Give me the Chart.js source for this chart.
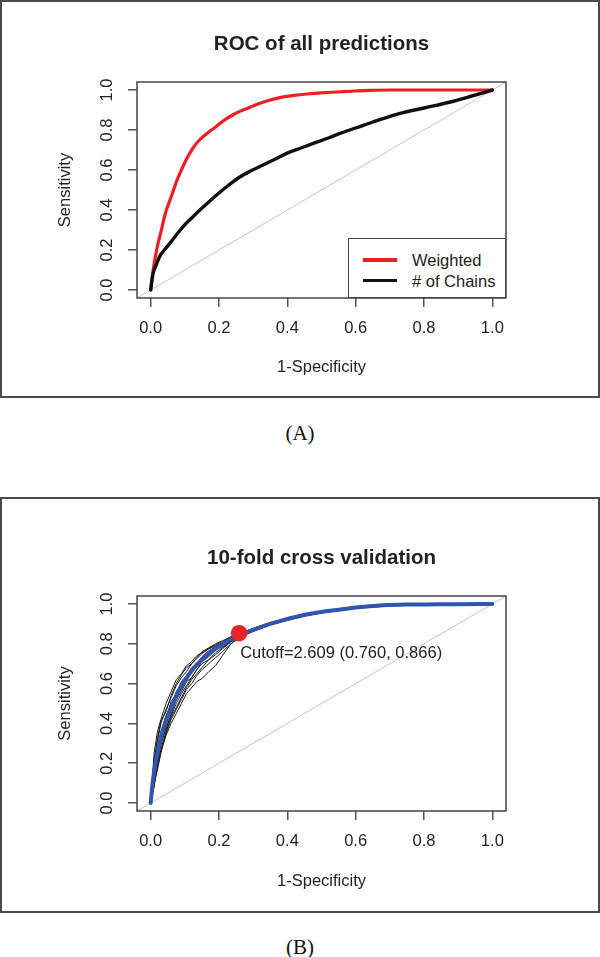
<!DOCTYPE html>
<html>
<head>
<meta charset="utf-8">
<script src="https://cdn.jsdelivr.net/npm/chart.js@4/dist/chart.umd.min.js"></script>
<style>
  body { margin: 0; width: 600px; height: 957px; background: #fff; position: relative; overflow: hidden; }
  .panel { position: absolute; left: 0; width: 600px; box-sizing: border-box; border: 2px solid #4a4a4a; }
  canvas { position: absolute; left: 0; }
  .caption { position: absolute; left: 0; width: 600px; text-align: center; font-family: "Liberation Serif", "Times New Roman", serif; font-size: 21px; line-height: 24px; color: #111; }
  .legend { position: absolute; box-sizing: border-box; background: #fff; border: 1.5px solid #444; font-family: "Liberation Sans", Arial, sans-serif; font-size: 16.5px; color: #222; }
  .legend .row { position: absolute; left: 0; height: 20px; line-height: 20px; }
  .legend .swatch { position: absolute; left: 14px; width: 34px; }
  .legend .text { position: absolute; left: 63px; white-space: nowrap; }
</style>
</head>
<body>
<div class="panel" style="top:0;height:398px"></div>
<canvas id="chartA" width="600" height="398" style="top:0"></canvas>
<div class="caption" style="top:421px">(A)</div>

<div class="panel" style="top:497px;height:416px"></div>
<canvas id="chartB" width="600" height="416" style="top:497px"></canvas>
<div class="caption" style="top:935px">(B)</div>

<script>
// axis ticks
const xTicks = [0, 0.2, 0.4, 0.6, 0.8, 1.0]
const yTicks = [0, 0.2, 0.4, 0.6, 0.8, 1.0]

// (A) ROC of all predictions
const weightedFpr = [0, 0.005, 0.012, 0.02, 0.03, 0.041, 0.05, 0.061, 0.075, 0.09, 0.105, 0.124, 0.14, 0.163, 0.19, 0.212, 0.24, 0.261, 0.29, 0.31, 0.34, 0.378, 0.42, 0.457, 0.5, 0.545, 0.6, 0.64, 0.7, 0.8, 0.9, 1.0]
const weightedTpr = [0, 0.07, 0.15, 0.22, 0.29, 0.37, 0.42, 0.47, 0.54, 0.6, 0.655, 0.71, 0.745, 0.78, 0.815, 0.845, 0.875, 0.893, 0.913, 0.927, 0.945, 0.962, 0.973, 0.98, 0.986, 0.99, 0.995, 0.998, 1, 1, 1, 1]
const chainsFpr = [0, 0.007, 0.015, 0.026, 0.04, 0.056, 0.075, 0.095, 0.12, 0.144, 0.17, 0.193, 0.225, 0.261, 0.295, 0.329, 0.365, 0.398, 0.44, 0.476, 0.52, 0.554, 0.6, 0.65, 0.69, 0.73, 0.8, 0.877, 0.94, 1.0]
const chainsTpr = [0, 0.083, 0.12, 0.167, 0.2, 0.233, 0.275, 0.317, 0.36, 0.4, 0.44, 0.475, 0.52, 0.565, 0.597, 0.625, 0.655, 0.683, 0.71, 0.733, 0.76, 0.783, 0.81, 0.84, 0.862, 0.883, 0.91, 0.94, 0.97, 1]

// (B) 10-fold cross validation
const meanFpr = [0, 0.005, 0.012, 0.02, 0.026, 0.035, 0.046, 0.058, 0.07, 0.085, 0.105, 0.125, 0.149, 0.175, 0.202, 0.23, 0.261, 0.3, 0.339, 0.38, 0.427, 0.48, 0.545, 0.6, 0.68, 0.75, 0.836, 0.9, 1.0]
const meanTpr = [0, 0.09, 0.18, 0.25, 0.3, 0.36, 0.417, 0.47, 0.517, 0.57, 0.627, 0.675, 0.719, 0.757, 0.789, 0.818, 0.844, 0.87, 0.894, 0.915, 0.936, 0.955, 0.97, 0.982, 0.993, 0.997, 0.998, 0.999, 1]
const foldFpr = [0, 0.01, 0.02, 0.03, 0.045, 0.06, 0.075, 0.09, 0.105, 0.12, 0.135, 0.15, 0.17, 0.19, 0.21, 0.235, 0.26, 0.3, 0.35, 0.4, 0.45, 0.5, 0.6, 0.7, 0.8, 0.9, 1.0]
const fold1 = [0, 0.22, 0.31, 0.40, 0.47, 0.53, 0.59, 0.63, 0.66, 0.70, 0.725, 0.75, 0.775, 0.79, 0.805, 0.83, 0.85, 0.878, 0.907, 0.928, 0.947, 0.962, 0.984, 0.995, 0.999, 1, 1]
const fold2 = [0, 0.12, 0.22, 0.31, 0.37, 0.45, 0.52, 0.56, 0.61, 0.63, 0.67, 0.71, 0.735, 0.77, 0.785, 0.815, 0.838, 0.866, 0.897, 0.92, 0.94, 0.955, 0.98, 0.992, 0.997, 1, 1]
const fold3 = [0, 0.09, 0.18, 0.26, 0.34, 0.40, 0.45, 0.50, 0.55, 0.58, 0.61, 0.625, 0.66, 0.69, 0.74, 0.80, 0.83, 0.862, 0.895, 0.918, 0.94, 0.955, 0.978, 0.99, 0.997, 0.999, 1]
const fold4 = [0, 0.20, 0.33, 0.41, 0.46, 0.54, 0.60, 0.645, 0.68, 0.70, 0.73, 0.76, 0.78, 0.80, 0.815, 0.835, 0.852, 0.876, 0.904, 0.927, 0.947, 0.961, 0.983, 0.995, 0.999, 1, 1]
const fold5 = [0, 0.14, 0.21, 0.29, 0.38, 0.44, 0.50, 0.55, 0.59, 0.63, 0.67, 0.70, 0.72, 0.755, 0.78, 0.81, 0.836, 0.866, 0.896, 0.92, 0.941, 0.957, 0.981, 0.994, 0.998, 1, 1]
const fold6 = [0, 0.25, 0.36, 0.42, 0.50, 0.56, 0.62, 0.65, 0.69, 0.71, 0.74, 0.755, 0.775, 0.795, 0.81, 0.835, 0.85, 0.874, 0.903, 0.926, 0.946, 0.96, 0.982, 0.994, 0.998, 1, 1]
const fold7 = [0, 0.10, 0.17, 0.25, 0.35, 0.42, 0.47, 0.52, 0.57, 0.60, 0.64, 0.67, 0.70, 0.73, 0.76, 0.80, 0.835, 0.864, 0.895, 0.918, 0.94, 0.955, 0.98, 0.993, 0.998, 1, 1]
const fold8 = [0, 0.17, 0.28, 0.36, 0.44, 0.49, 0.56, 0.60, 0.64, 0.68, 0.70, 0.735, 0.765, 0.785, 0.80, 0.826, 0.845, 0.872, 0.9, 0.924, 0.944, 0.958, 0.982, 0.994, 0.998, 1, 1]
const fold9 = [0, 0.08, 0.19, 0.27, 0.36, 0.43, 0.48, 0.53, 0.58, 0.62, 0.65, 0.68, 0.72, 0.745, 0.775, 0.81, 0.84, 0.868, 0.896, 0.92, 0.941, 0.956, 0.982, 0.995, 0.999, 1, 1]
const fold10 = [0, 0.19, 0.26, 0.35, 0.43, 0.51, 0.55, 0.61, 0.64, 0.675, 0.69, 0.725, 0.745, 0.775, 0.80, 0.828, 0.846, 0.871, 0.9, 0.922, 0.943, 0.957, 0.98, 0.992, 0.997, 0.999, 1]
const folds = [fold1, fold2, fold3, fold4, fold5, fold6, fold7, fold8, fold9, fold10]
const cutoffPoint = [0.259, 0.853]
const cutoffLabel = "Cutoff=2.609 (0.760, 0.866)"

Chart.defaults.font.family = "'Liberation Sans', Arial, sans-serif"
Chart.defaults.font.size = 16.5
Chart.defaults.color = "#222"

const toPoints = (xs, ys) => xs.map((x, i) => ({ x: x, y: ys[i] }))

const diagonal = {
  data: [{ x: -0.04, y: -0.04 }, { x: 1.04, y: 1.04 }],
  borderColor: "#c4c4c4",
  borderWidth: 1,
  pointRadius: 0,
  order: 9,
}

// box around the plot region
const framePlugin = {
  id: "frame",
  afterDatasetsDraw(chart) {
    const a = chart.chartArea
    const ctx = chart.ctx
    ctx.save()
    ctx.strokeStyle = "#444"
    ctx.lineWidth = 1.5
    ctx.strokeRect(a.left, a.top, a.right - a.left, a.bottom - a.top)
    ctx.restore()
  },
}

function makeOptions(title, canvasH, plotTop, plotBottom, xTitlePad) {
  const titleLine = 20.5 * 1.2
  const titleTop = title.center - titleLine / 2
  return {
    responsive: false,
    animation: false,
    events: [],
    layout: { padding: { top: 0, left: 0, right: 94, bottom: 0 } },
    plugins: {
      legend: { display: false },
      tooltip: { enabled: false },
      title: {
        display: true,
        text: title.text,
        fullSize: false,
        color: "#222",
        font: { size: 20.5, weight: "bold" },
        padding: { top: titleTop, bottom: plotTop - titleTop - titleLine },
      },
    },
    elements: { line: { tension: 0, borderJoinStyle: "round", borderCapStyle: "round" } },
    scales: {
      x: {
        type: "linear",
        min: -0.04,
        max: 1.04,
        afterBuildTicks: (s) => { s.ticks = xTicks.map((v) => ({ value: v })) },
        afterFit: (s) => { s.height = canvasH - plotBottom },
        grid: { drawOnChartArea: false, drawTicks: true, tickLength: 9, color: "#555", lineWidth: 1.5 },
        border: { display: false },
        ticks: { padding: 12, autoSkip: false, maxRotation: 0, color: "#222", callback: (v) => v.toFixed(1) },
        title: { display: true, text: "1-Specificity", color: "#222", padding: { top: 0, bottom: xTitlePad } },
      },
      y: {
        type: "linear",
        min: -0.04,
        max: 1.04,
        afterBuildTicks: (s) => { s.ticks = yTicks.map((v) => ({ value: v })) },
        afterFit: (s) => { s.width = 137 },
        grid: { drawOnChartArea: false, drawTicks: true, tickLength: 9, color: "#555", lineWidth: 1.5 },
        border: { display: false },
        ticks: { padding: 9.5, minRotation: 90, maxRotation: 90, crossAlign: "center", color: "#222", callback: (v) => v.toFixed(1) },
        title: { display: true, text: "Sensitivity", color: "#222", padding: { top: 56, bottom: 0 } },
      },
    },
  }
}

// Chart A
const chartA = new Chart(document.getElementById("chartA"), {
  type: "line",
  data: {
    datasets: [
      { label: "Weighted", data: toPoints(weightedFpr, weightedTpr), borderColor: "#ee1f23", borderWidth: 3.2, pointRadius: 0, cubicInterpolationMode: "monotone", order: 1 },
      { label: "# of Chains", data: toPoints(chainsFpr, chainsTpr), borderColor: "#111", borderWidth: 3.4, pointRadius: 0, cubicInterpolationMode: "monotone", order: 0 },
      diagonal,
    ],
  },
  options: makeOptions({ text: "ROC of all predictions", center: 44.3 }, 398, 82, 298, 20.4),
  plugins: [framePlugin],
})

// legend in the bottom-right corner of the plot, built from the chart's datasets
function buildLegend(chart, canvasTop) {
  const a = chart.chartArea
  const box = document.createElement("div")
  box.className = "legend"
  const w = 158
  const h = 60
  box.style.left = a.right - w + "px"
  box.style.top = canvasTop + a.bottom - h + "px"
  box.style.width = w + "px"
  box.style.height = h + "px"
  chart.data.datasets.filter((d) => d.label).forEach((d, i) => {
    const row = document.createElement("div")
    row.className = "row"
    row.style.top = 11 + i * 20.5 + "px"
    row.style.width = "100%"
    const sw = document.createElement("div")
    sw.className = "swatch"
    sw.style.top = 10 - d.borderWidth / 2 + "px"
    sw.style.height = d.borderWidth + "px"
    sw.style.background = d.borderColor
    const tx = document.createElement("div")
    tx.className = "text"
    tx.textContent = d.label
    row.appendChild(sw)
    row.appendChild(tx)
    box.appendChild(row)
  })
  document.body.appendChild(box)
}
buildLegend(chartA, 0)

// label next to the optimal cutoff point
const cutoffTextPlugin = {
  id: "cutoffText",
  afterDatasetsDraw(chart) {
    const meta = chart.getDatasetMeta(0)
    const pt = meta.data[0]
    if (!pt) return
    const ctx = chart.ctx
    ctx.save()
    ctx.font = "16.5px 'Liberation Sans', Arial, sans-serif"
    ctx.fillStyle = "#222"
    ctx.textAlign = "left"
    ctx.textBaseline = "middle"
    ctx.fillText(cutoffLabel, pt.x + 1, pt.y + 20)
    ctx.restore()
  },
}

// Chart B
const foldSets = folds.map((f) => ({
  data: toPoints(foldFpr, f),
  borderColor: "#1a1a1a",
  borderWidth: 1,
  pointRadius: 0,
  order: 3,
}))

new Chart(document.getElementById("chartB"), {
  type: "line",
  data: {
    datasets: [
      { data: [{ x: cutoffPoint[0], y: cutoffPoint[1] }], showLine: false, pointRadius: 8.3, pointBackgroundColor: "#e8232a", pointBorderWidth: 0, order: 0 },
      { data: toPoints(meanFpr, meanTpr), borderColor: "#3056b0", borderWidth: 4, pointRadius: 0, cubicInterpolationMode: "monotone", order: 1 },
      ...foldSets,
      diagonal,
    ],
  },
  options: makeOptions({ text: "10-fold cross validation", center: 61.3 }, 416, 99, 314, 21.4),
  plugins: [framePlugin, cutoffTextPlugin],
})
</script>
</body>
</html>
